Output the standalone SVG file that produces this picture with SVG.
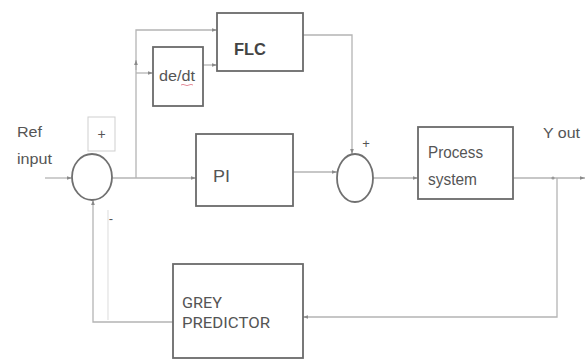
<svg xmlns="http://www.w3.org/2000/svg" width="585" height="361" viewBox="0 0 585 361">
<defs>
<style>
.box{fill:#fff;stroke:#6a6a6a;stroke-width:1.8}
.ring{fill:#fff;stroke:#707070;stroke-width:1.8}
.ln{fill:none;stroke:#b4b4b4;stroke-width:1.3}
.faint{fill:none;stroke:#e2e2e2;stroke-width:1.2}
.t{font-family:"Liberation Sans Narrow","Liberation Sans",Arial,sans-serif;fill:#555}
.tb{font-family:"Liberation Sans",Arial,sans-serif;font-weight:bold;fill:#444}
.tr{font-family:Roboto,"Liberation Sans",sans-serif;fill:#555}
</style>
<marker id="ar" viewBox="0 0 6 6" refX="6" refY="3" markerWidth="5" markerHeight="5" orient="auto" markerUnits="userSpaceOnUse">
<path d="M0,0.8 L6,3 L0,5.2 z" fill="#8a8a8a"/>
</marker>
</defs>
<rect width="585" height="361" fill="#fff"/>
<g id="connectors">
<line class="ln" x1="45" y1="178" x2="72" y2="178" marker-end="url(#ar)"/>
<line class="ln" x1="112" y1="178" x2="196" y2="178" marker-end="url(#ar)"/>
<polyline class="ln" points="136,178 136,30 217,30" marker-end="url(#ar)"/>
<line class="ln" x1="136" y1="70" x2="136" y2="60" marker-end="url(#ar)"/>
<line class="ln" x1="136" y1="73" x2="153" y2="73" marker-end="url(#ar)"/>
<line class="ln" x1="203" y1="65" x2="217" y2="65" marker-end="url(#ar)"/>
<polyline class="ln" points="303,35 352,35 352,154" marker-end="url(#ar)"/>
<line class="ln" x1="293" y1="172" x2="337" y2="172" marker-end="url(#ar)"/>
<line class="ln" x1="373" y1="178" x2="418" y2="178" marker-end="url(#ar)"/>
<line class="ln" x1="513" y1="178" x2="585" y2="178" marker-end="url(#ar)"/>
<circle cx="553" cy="178" r="1.6" fill="#999"/>
<polyline class="ln" points="557,178 557,317 303,317" marker-end="url(#ar)"/>
<polyline class="ln" points="182,322 93,322 93,200" marker-end="url(#ar)"/>
<line class="faint" x1="108" y1="210" x2="108" y2="320"/>
</g>
<g id="plus-box">
<rect x="88" y="117" width="27" height="34" fill="#fff" stroke="#cfcfcf" stroke-width="1"/>
<text class="t" x="101.5" y="139" font-size="14" text-anchor="middle">+</text>
</g>
<g id="sum1">
<ellipse class="ring" cx="92" cy="177" rx="20" ry="23"/>
</g>
<g id="sum2">
<ellipse class="ring" cx="355" cy="178" rx="18" ry="24"/>
</g>
<g id="flc">
<rect class="box" x="217" y="13" width="86" height="58"/>
<text class="tb" x="250" y="55" font-size="17" text-anchor="middle" textLength="32" lengthAdjust="spacingAndGlyphs">FLC</text>
</g>
<g id="dedt">
<rect class="box" x="153" y="47" width="50" height="59"/>
<text class="t" x="159" y="81" font-size="14" textLength="36" lengthAdjust="spacingAndGlyphs">de/dt</text>
<path d="M181,85 q2,-1.2 4,0 t4,0 t4,0" fill="none" stroke="#e08090" stroke-width="0.9"/>
</g>
<g id="pi">
<rect class="box" x="196" y="134" width="97" height="72"/>
<text class="t" x="213" y="182" font-size="17" textLength="17" lengthAdjust="spacingAndGlyphs">PI</text>
</g>
<g id="process">
<rect class="box" x="418" y="127" width="95" height="72"/>
<text class="t" x="428" y="158" font-size="16" textLength="55" lengthAdjust="spacingAndGlyphs">Process</text>
<text class="t" x="428" y="185" font-size="16" textLength="49" lengthAdjust="spacingAndGlyphs">system</text>
</g>
<g id="grey">
<rect class="box" x="173" y="264" width="130" height="94" fill="none"/>
<text class="tr" x="182" y="308" font-size="15" textLength="40" lengthAdjust="spacingAndGlyphs">GREY</text>
<text class="tr" x="182" y="328" font-size="15" textLength="88" lengthAdjust="spacingAndGlyphs">PREDICTOR</text>
</g>
<g id="labels">
<text class="t" x="17" y="137" font-size="15" textLength="25" lengthAdjust="spacingAndGlyphs">Ref</text>
<text class="t" x="17" y="164" font-size="15" textLength="35" lengthAdjust="spacingAndGlyphs">input</text>
<text class="t" x="543" y="138" font-size="15" textLength="37" lengthAdjust="spacingAndGlyphs">Y out</text>
<text class="t" x="366" y="148" font-size="13" text-anchor="middle">+</text>
<text class="t" x="111" y="223" font-size="13" text-anchor="middle">-</text>
</g>
</svg>
